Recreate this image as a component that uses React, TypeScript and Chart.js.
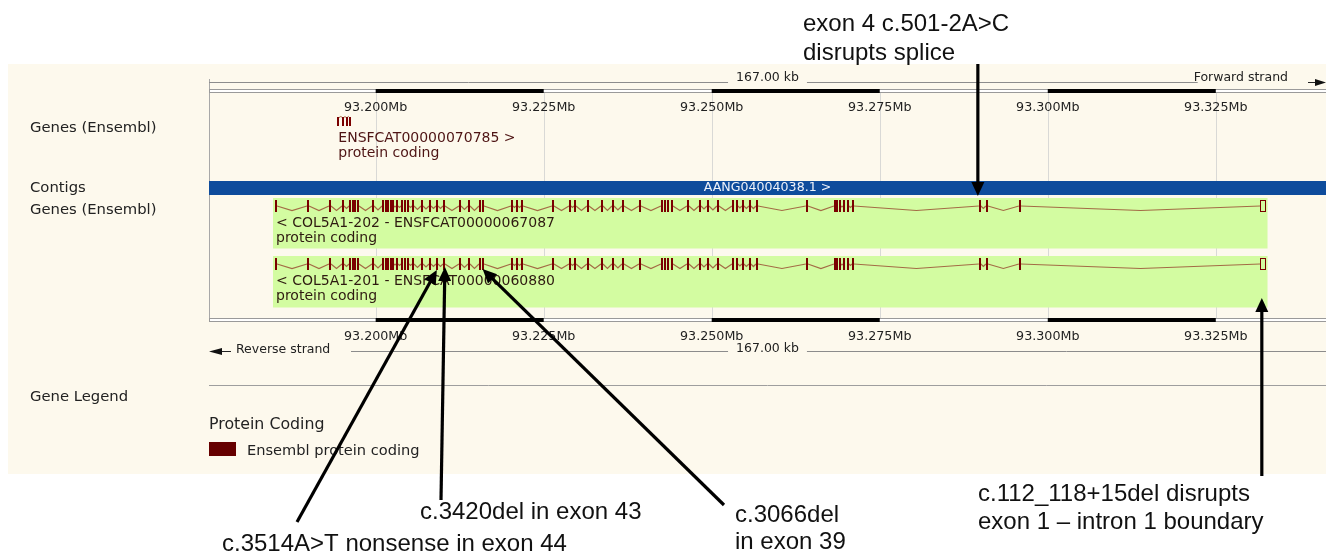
import React, { useEffect, useRef } from "react";
import { Chart, registerables } from "chart.js";
Chart.register(...registerables);

// ---------- data ----------
const viewRangeMb = [93.1752, 93.3414];
const rulerTicksMb = [93.2, 93.225, 93.25, 93.275, 93.3, 93.325];
const rulerTickLabels = ["93.200Mb", "93.225Mb", "93.250Mb", "93.275Mb", "93.300Mb", "93.325Mb"];
const rulerBlackSegmentsMb = [
  [93.2, 93.225],
  [93.25, 93.275],
  [93.3, 93.325],
];
const regionLengthLabel = "167.00 kb";
const strandLabels = ["Forward strand", "Reverse strand"];
const trackLabels = ["Genes (Ensembl)", "Contigs", "Genes (Ensembl)", "Gene Legend"];

const smallGeneExonsMb = [93.19444, 93.19518, 93.19569, 93.19618];
const smallGeneLabel = ["ENSFCAT00000070785 >", "protein coding"];

const contigRangeMb = [93.1752, 93.3414];
const contigName = "AANG04004038.1 >";

const col5a1ExonsMb = [
  93.18517, 93.18993, 93.1932, 93.19514, 93.19618, 93.19662, 93.19692, 93.19737, 93.1996,
  93.20109, 93.20153, 93.20183, 93.20228, 93.20257, 93.20317, 93.20391, 93.20436, 93.20481,
  93.20555, 93.20689, 93.20808, 93.20912, 93.21016, 93.21254, 93.21388, 93.21552, 93.21596,
  93.22028, 93.22102, 93.22177, 93.22638, 93.22891, 93.22965, 93.23158, 93.23367, 93.2353,
  93.23679, 93.23932, 93.24259, 93.24304, 93.24349, 93.24408, 93.24646, 93.24825, 93.24944,
  93.25092, 93.25316, 93.25375, 93.25464, 93.25568, 93.25673, 93.26416, 93.26833, 93.26863,
  93.26907, 93.26967, 93.27026, 93.27101, 93.2899, 93.29094, 93.29585,
];
const col5a1UtrMb = [93.3316, 93.3324];
const transcriptNames = [
  "< COL5A1-202 - ENSFCAT00000067087",
  "< COL5A1-201 - ENSFCAT00000060880",
];
const transcriptBiotype = "protein coding";

const legendTitle = "Protein Coding";
const legendEntry = "Ensembl protein coding";

const variantLabels = [
  ["exon 4 c.501-2A>C", "disrupts splice"],
  ["c.112_118+15del disrupts", "exon 1 \u2013 intron 1 boundary"],
  ["c.3066del", "in exon 39"],
  ["c.3420del in exon 43"],
  ["c.3514A>T nonsense in exon 44"],
];
const variantTipsMb = [93.2896, 93.33185, 93.2159, 93.2103, 93.2091];

// ---------- drawing ----------
const DV = '"DejaVu Sans", Verdana, sans-serif';
const AR = '"Liberation Sans", Arial, sans-serif';

function arrow(ctx: CanvasRenderingContext2D, x1: number, y1: number, x2: number, y2: number) {
  const ang = Math.atan2(y2 - y1, x2 - x1);
  const hl = 14;
  const hw = 6.5;
  const bx = x2 - Math.cos(ang) * hl;
  const by = y2 - Math.sin(ang) * hl;
  ctx.strokeStyle = "#000";
  ctx.lineWidth = 3.2;
  ctx.beginPath();
  ctx.moveTo(x1, y1);
  ctx.lineTo(bx + Math.cos(ang) * 2, by + Math.sin(ang) * 2);
  ctx.stroke();
  ctx.fillStyle = "#000";
  ctx.beginPath();
  ctx.moveTo(x2, y2);
  ctx.lineTo(bx - Math.sin(ang) * hw, by + Math.cos(ang) * hw);
  ctx.lineTo(bx + Math.sin(ang) * hw, by - Math.cos(ang) * hw);
  ctx.closePath();
  ctx.fill();
}

const browserPlugin = {
  id: "genomeBrowser",
  afterDraw(chart: any) {
    const ctx: CanvasRenderingContext2D = chart.ctx;
    const xs = chart.scales.x;
    const X = (v: number) => xs.getPixelForValue(v);
    const L = chart.chartArea.left;
    const R = chart.chartArea.right;
    ctx.save();

    // panel background
    ctx.fillStyle = "#fdf9ed";
    ctx.fillRect(8, 64, 1326 - 8, 474 - 64);

    // grid lines
    ctx.strokeStyle = "#d9d9d6";
    ctx.lineWidth = 1;
    rulerTicksMb.forEach((t) => {
      const x = Math.round(X(t)) + 0.5;
      ctx.beginPath();
      ctx.moveTo(x, 93);
      ctx.lineTo(x, 318);
      ctx.stroke();
    });
    // left border
    ctx.strokeStyle = "#a8a8a8";
    ctx.beginPath();
    ctx.moveTo(L + 0.5, 79);
    ctx.lineTo(L + 0.5, 322);
    ctx.stroke();

    // top length line with label
    ctx.font = `12.5px ${DV}`;
    ctx.textBaseline = "middle";
    const midX = (L + R) / 2;
    const lenW = ctx.measureText(regionLengthLabel).width;
    const fwdW = ctx.measureText(strandLabels[0]).width;
    ctx.strokeStyle = "#8c8c8c";
    const drawSeg = (a: number, b: number, y: number) => {
      ctx.beginPath();
      ctx.moveTo(a, y + 0.5);
      ctx.lineTo(b, y + 0.5);
      ctx.stroke();
    };
    drawSeg(L, midX - lenW / 2 - 8, 82);
    drawSeg(midX + lenW / 2 + 8, R - 20 - fwdW - 14, 82);
    ctx.fillStyle = "#222";
    ctx.textAlign = "center";
    ctx.fillText(regionLengthLabel, midX, 78);
    ctx.textAlign = "right";
    ctx.fillText(strandLabels[0], R - 38, 78);
    // forward arrow
    ctx.strokeStyle = "#222";
    drawSeg(R - 18, R - 8, 82);
    ctx.fillStyle = "#111";
    ctx.beginPath();
    ctx.moveTo(R, 82.5);
    ctx.lineTo(R - 11, 79);
    ctx.lineTo(R - 11, 86);
    ctx.closePath();
    ctx.fill();

    // scale bars
    const scaleBar = (y: number) => {
      ctx.fillStyle = "#ffffff";
      ctx.fillRect(L, y, R - L, 4);
      ctx.strokeStyle = "#9a9a9a";
      ctx.lineWidth = 1;
      ctx.strokeRect(L + 0.5, y + 0.5, R - L, 3);
      ctx.fillStyle = "#000";
      rulerBlackSegmentsMb.forEach(([a, b]) => {
        ctx.fillRect(X(a), y, X(b) - X(a), 4);
      });
    };
    scaleBar(89);
    scaleBar(318);

    // tick labels
    ctx.font = `12.7px ${DV}`;
    ctx.fillStyle = "#222";
    ctx.textAlign = "center";
    rulerTicksMb.forEach((t, i) => {
      ctx.fillText(rulerTickLabels[i], X(t), 108);
      ctx.fillText(rulerTickLabels[i], X(t), 337);
    });

    // bottom strand line
    ctx.font = `12.5px ${DV}`;
    ctx.textAlign = "left";
    ctx.fillText(strandLabels[1], L + 27, 350);
    ctx.strokeStyle = "#8c8c8c";
    drawSeg(L + 142, midX - lenW / 2 - 8, 351);
    drawSeg(midX + lenW / 2 + 8, R, 351);
    ctx.textAlign = "center";
    ctx.fillText(regionLengthLabel, midX, 349);
    ctx.strokeStyle = "#222";
    drawSeg(L + 10, L + 22, 351);
    ctx.fillStyle = "#111";
    ctx.beginPath();
    ctx.moveTo(L, 351.5);
    ctx.lineTo(L + 13, 348);
    ctx.lineTo(L + 13, 355);
    ctx.closePath();
    ctx.fill();

    // separator
    ctx.strokeStyle = "#9e9e9e";
    drawSeg(L, R, 385);

    // left labels
    ctx.fillStyle = "#222";
    ctx.textAlign = "left";
    ctx.font = `14.8px ${DV}`;
    ctx.fillText(trackLabels[0], 30, 128);
    ctx.fillText(trackLabels[1], 30, 188);
    ctx.fillText(trackLabels[2], 30, 210);
    ctx.fillText(trackLabels[3], 30, 397);

    const exonCol = "#7a0000";
    const intronCol = "#a36b45";

    // small gene
    {
      const xsG = smallGeneExonsMb.map(X);
      ctx.strokeStyle = intronCol;
      ctx.lineWidth = 1;
      for (let i = 0; i < xsG.length - 1; i++) {
        ctx.beginPath();
        ctx.moveTo(xsG[i], 118);
        ctx.lineTo((xsG[i] + xsG[i + 1]) / 2, 116.5);
        ctx.lineTo(xsG[i + 1], 118);
        ctx.stroke();
      }
      ctx.fillStyle = exonCol;
      xsG.forEach((x) => ctx.fillRect(Math.round(x) - 1, 117, 2, 9));
      ctx.fillStyle = "#4e1414";
      ctx.font = `14px ${DV}`;
      ctx.textAlign = "left";
      ctx.fillText(smallGeneLabel[0], xsG[0], 138.5);
      ctx.fillText(smallGeneLabel[1], xsG[0], 153);
    }

    // contig
    {
      const a = Math.max(X(contigRangeMb[0]), L);
      const b = Math.min(X(contigRangeMb[1]), R);
      ctx.fillStyle = "#0e4c9c";
      ctx.fillRect(a, 181, b - a, 14);
      ctx.fillStyle = "#eef2fa";
      ctx.font = `12.6px ${DV}`;
      ctx.textAlign = "center";
      ctx.fillText(contigName, (a + b) / 2, 188);
    }

    // transcripts
    const rows = [
      { top: 198, bottom: 248.5, exTop: 200, exH: 12 },
      { top: 256, bottom: 307.5, exTop: 258, exH: 12 },
    ];
    rows.forEach((r, ri) => {
      const first = X(col5a1ExonsMb[0]);
      const last = X(col5a1UtrMb[1]);
      ctx.fillStyle = "#d3fca1";
      ctx.fillRect(first - 3, r.top, last - first + 5, r.bottom - r.top);
      const cy = r.exTop + r.exH / 2;
      const all = col5a1ExonsMb.map((m) => [X(m) - 1, X(m) + 1]);
      all.push([X(col5a1UtrMb[0]), X(col5a1UtrMb[1])]);
      ctx.strokeStyle = intronCol;
      ctx.lineWidth = 1.2;
      for (let i = 0; i < all.length - 1; i++) {
        const a = all[i][1];
        const b = all[i + 1][0];
        if (b - a < 2) continue;
        const dip = Math.min(4.5, (b - a) / 2);
        ctx.beginPath();
        ctx.moveTo(a, cy);
        ctx.lineTo((a + b) / 2, cy + dip);
        ctx.lineTo(b, cy);
        ctx.stroke();
      }
      ctx.fillStyle = exonCol;
      col5a1ExonsMb.forEach((m) => {
        ctx.fillRect(Math.round(X(m)) - 1, r.exTop, 2, r.exH);
      });
      const ua = X(col5a1UtrMb[0]);
      const ub = X(col5a1UtrMb[1]);
      ctx.strokeStyle = exonCol;
      ctx.lineWidth = 1;
      ctx.strokeRect(Math.round(ua) + 0.5, r.exTop + 0.5, Math.max(4, Math.round(ub - ua)), r.exH - 1);
      ctx.fillStyle = "#2e1a10";
      ctx.font = `14px ${DV}`;
      ctx.textAlign = "left";
      ctx.fillText(transcriptNames[ri], first, r.exTop + 23);
      ctx.fillText(transcriptBiotype, first, r.exTop + 38);
    });

    // legend
    ctx.fillStyle = "#222";
    ctx.font = `15.8px ${DV}`;
    ctx.fillText(legendTitle, L, 425);
    ctx.fillStyle = "#660000";
    ctx.fillRect(L, 442, 27, 14);
    ctx.fillStyle = "#222";
    ctx.font = `14.6px ${DV}`;
    ctx.fillText(legendEntry, L + 38, 451);

    // variant annotations
    const tips = variantTipsMb.map(X);
    arrow(ctx, tips[0], 64, tips[0], 196);
    arrow(ctx, tips[1], 476, tips[1], 298);
    arrow(ctx, 724, 505, tips[2], 269);
    arrow(ctx, 441, 500, tips[3], 267);
    arrow(ctx, 297, 522, tips[4], 270);

    ctx.fillStyle = "#111";
    ctx.font = `24px ${AR}`;
    ctx.textAlign = "left";
    ctx.textBaseline = "middle";
    const txt = (s: string, x: number, y: number, w: number) => ctx.fillText(s, x, y, w);
    txt(variantLabels[0][0], 803, 24, 210);
    txt(variantLabels[0][1], 803, 53, 160);
    txt(variantLabels[1][0], 978, 494, 284);
    txt(variantLabels[1][1], 978, 522, 297);
    txt(variantLabels[2][0], 735, 515, 110);
    txt(variantLabels[2][1], 735, 542, 113);
    txt(variantLabels[3][0], 420, 512, 226);
    txt(variantLabels[4][0], 222, 544, 363);

    ctx.restore();
  },
};

export default function App() {
  const ref = useRef<HTMLCanvasElement | null>(null);
  useEffect(() => {
    if (!ref.current) return;
    const chart = new Chart(ref.current, {
      type: "scatter",
      data: { datasets: [{ data: [], pointRadius: 0 }] },
      options: {
        animation: false,
        responsive: false,
        maintainAspectRatio: false,
        devicePixelRatio: 1,
        layout: { padding: { left: 209, right: 0, top: 0, bottom: 0 } },
        plugins: { legend: { display: false }, tooltip: { enabled: false } },
        events: [],
        scales: {
          x: { type: "linear", min: viewRangeMb[0], max: viewRangeMb[1], display: false },
          y: { type: "linear", min: 0, max: 555, reverse: true, display: false },
        },
      },
      plugins: [browserPlugin],
    });
    return () => chart.destroy();
  }, []);
  return (
    <div style={{ position: "absolute", left: 0, top: 0, width: 1326, height: 555, background: "#fff" }}>
      <canvas ref={ref} width={1326} height={555} />
    </div>
  );
}
